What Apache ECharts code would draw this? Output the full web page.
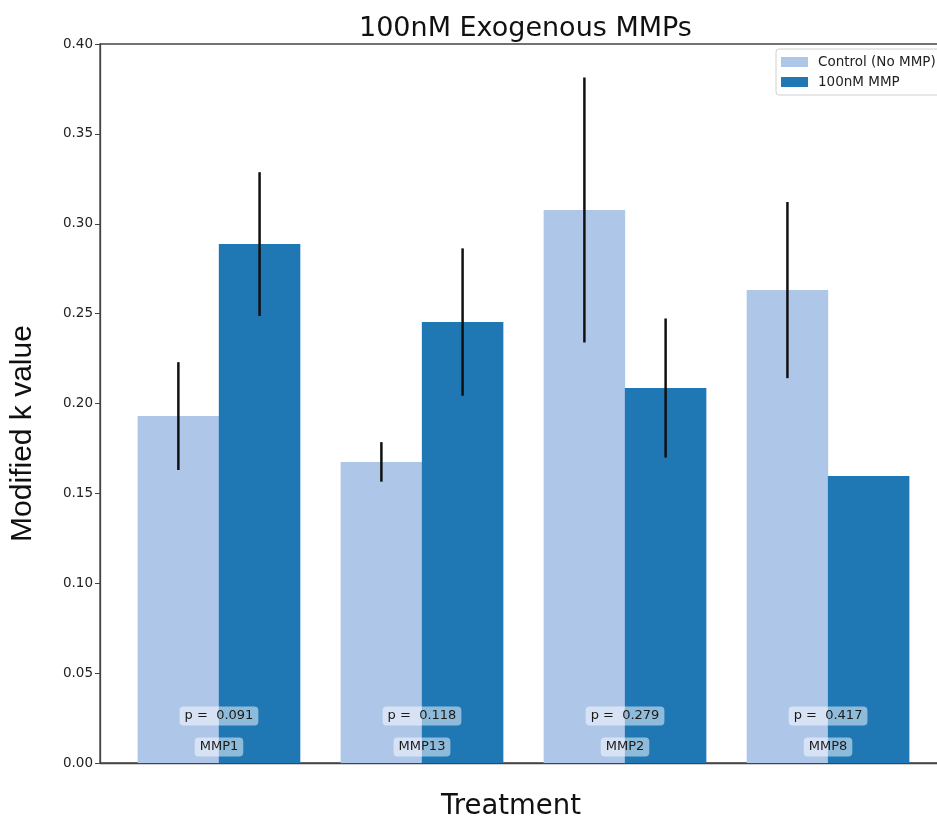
<!DOCTYPE html>
<html>
<head>
<meta charset="utf-8">
<script src="https://cdn.jsdelivr.net/npm/echarts@6/dist/echarts.min.js"></script>
<style>
html,body{margin:0;padding:0;background:#fff;}
#chart{width:937px;height:819px;}
</style>
</head>
<body>
<div id="chart"></div>
<script>
const categories = ['MMP1', 'MMP13', 'MMP2', 'MMP8'];
const controlValues = [0.193, 0.1675, 0.3077, 0.2631];
const controlErrors = [0.030, 0.011, 0.0737, 0.049];
const mmpValues = [0.2887, 0.2453, 0.2086, 0.1597];
const mmpErrors = [0.040, 0.041, 0.0387, 0];
const pValues = ['0.091', '0.118', '0.279', '0.417'];
const yTicks = [0, 0.05, 0.10, 0.15, 0.20, 0.25, 0.30, 0.35, 0.40];

const OFFSET = 0.2; // half of bar slot (bars are placed at x -/+ width/2, like matplotlib)
const lightBlue = '#aec7e8';
const darkBlue = '#1f77b4';
const FONT = 'DejaVu Sans';

const controlData = categories.map((c, i) => [i - OFFSET, controlValues[i]]);
const mmpData = categories.map((c, i) => [i + OFFSET, mmpValues[i]]);
const errData = [];
categories.forEach((c, i) => {
  errData.push([i - OFFSET, controlValues[i] - controlErrors[i], controlValues[i] + controlErrors[i]]);
  if (mmpErrors[i] > 0) errData.push([i + OFFSET, mmpValues[i] - mmpErrors[i], mmpValues[i] + mmpErrors[i]]);
});
const labelData = categories.map((c, i) => [i, 0, i]);

const chart = echarts.init(document.getElementById('chart'), null, {renderer: 'canvas'});

const boxStyle = {
  fontFamily: FONT, fontSize: 13, fill: '#1a1a1a',
  backgroundColor: 'rgba(255,255,255,0.5)', borderRadius: 4, padding: [3, 5, 3, 5],
  align: 'center', verticalAlign: 'middle'
};

chart.setOption({
  animation: false,
  backgroundColor: '#fff',
  title: {
    text: '100nM Exogenous MMPs',
    left: 354, top: 10,
    textStyle: {fontFamily: FONT, fontSize: 27, fontWeight: 'normal', color: '#111'}
  },
  legend: {
    data: ['Control (No MMP)', '100nM MMP'],
    orient: 'vertical',
    left: 776, top: 49,
    icon: 'rect',
    itemWidth: 27, itemHeight: 10, itemGap: 6,
    borderColor: '#d0d0d0', borderWidth: 1, borderRadius: 3,
    padding: [6, 20, 6, 5],
    backgroundColor: '#fff',
    textStyle: {fontFamily: FONT, fontSize: 13.5, color: '#222', padding: [0, 0, 0, 5]}
  },
  grid: {
    left: 100, top: 44, width: 847, height: 719,
    outerBoundsMode: 'none', containLabel: false,
    show: true, borderColor: '#444', borderWidth: 1.3, backgroundColor: 'transparent'
  },
  xAxis: {
    type: 'value',
    min: -0.586, max: 3.586,
    axisLabel: {show: false},
    axisTick: {show: false},
    splitLine: {show: false},
    axisLine: {show: true, onZero: false, lineStyle: {color: '#444', width: 1.3}},
    name: 'Treatment',
    nameLocation: 'middle',
    nameGap: 30,
    nameTextStyle: {fontFamily: FONT, fontSize: 27.5, color: '#111', padding: [0, 25, 0, 0]}
  },
  yAxis: {
    type: 'value',
    min: 0, max: 0.4, interval: 0.05,
    axisLine: {show: true, onZero: false, lineStyle: {color: '#444', width: 1.3}},
    axisTick: {show: true, inside: false, length: 5, lineStyle: {color: '#444'}},
    splitLine: {show: false},
    axisLabel: {
      fontFamily: FONT, fontSize: 13.5, color: '#222', margin: 7,
      formatter: v => v.toFixed(2)
    },
    name: 'Modified k value',
    nameLocation: 'middle',
    nameGap: 62,
    nameTextStyle: {fontFamily: 'Liberation Sans', fontSize: 30, color: '#111', padding: [0, 60, 0, 0]}
  },
  series: [
    {
      name: 'Control (No MMP)', type: 'bar', data: controlData,
      barWidth: 81.5, barGap: '-100%',
      itemStyle: {color: lightBlue}, z: 2
    },
    {
      name: '100nM MMP', type: 'bar', data: mmpData,
      barWidth: 81.5, barGap: '-100%',
      itemStyle: {color: darkBlue}, z: 2
    },
    {
      name: 'err', type: 'custom', data: errData, z: 5,
      encode: {x: 0, y: [1, 2]},
      renderItem: (params, api) => {
        const p1 = api.coord([api.value(0), api.value(1)]);
        const p2 = api.coord([api.value(0), api.value(2)]);
        return {
          type: 'line',
          shape: {x1: p1[0], y1: p1[1], x2: p2[0], y2: p2[1]},
          style: {stroke: '#111', lineWidth: 2.5}
        };
      }
    },
    {
      name: 'labels', type: 'custom', data: labelData, z: 6,
      encode: {x: 0, y: 1},
      renderItem: (params, api) => {
        const idx = api.value(2);
        const p = api.coord([api.value(0), 0]);
        return {
          type: 'group',
          children: [
            {type: 'text', x: p[0], y: p[1] - 47, style: Object.assign({text: 'p =  ' + pValues[idx]}, boxStyle)},
            {type: 'text', x: p[0], y: p[1] - 16, style: Object.assign({text: categories[idx]}, boxStyle)}
          ]
        };
      }
    }
  ]
});
</script>
</body>
</html>
